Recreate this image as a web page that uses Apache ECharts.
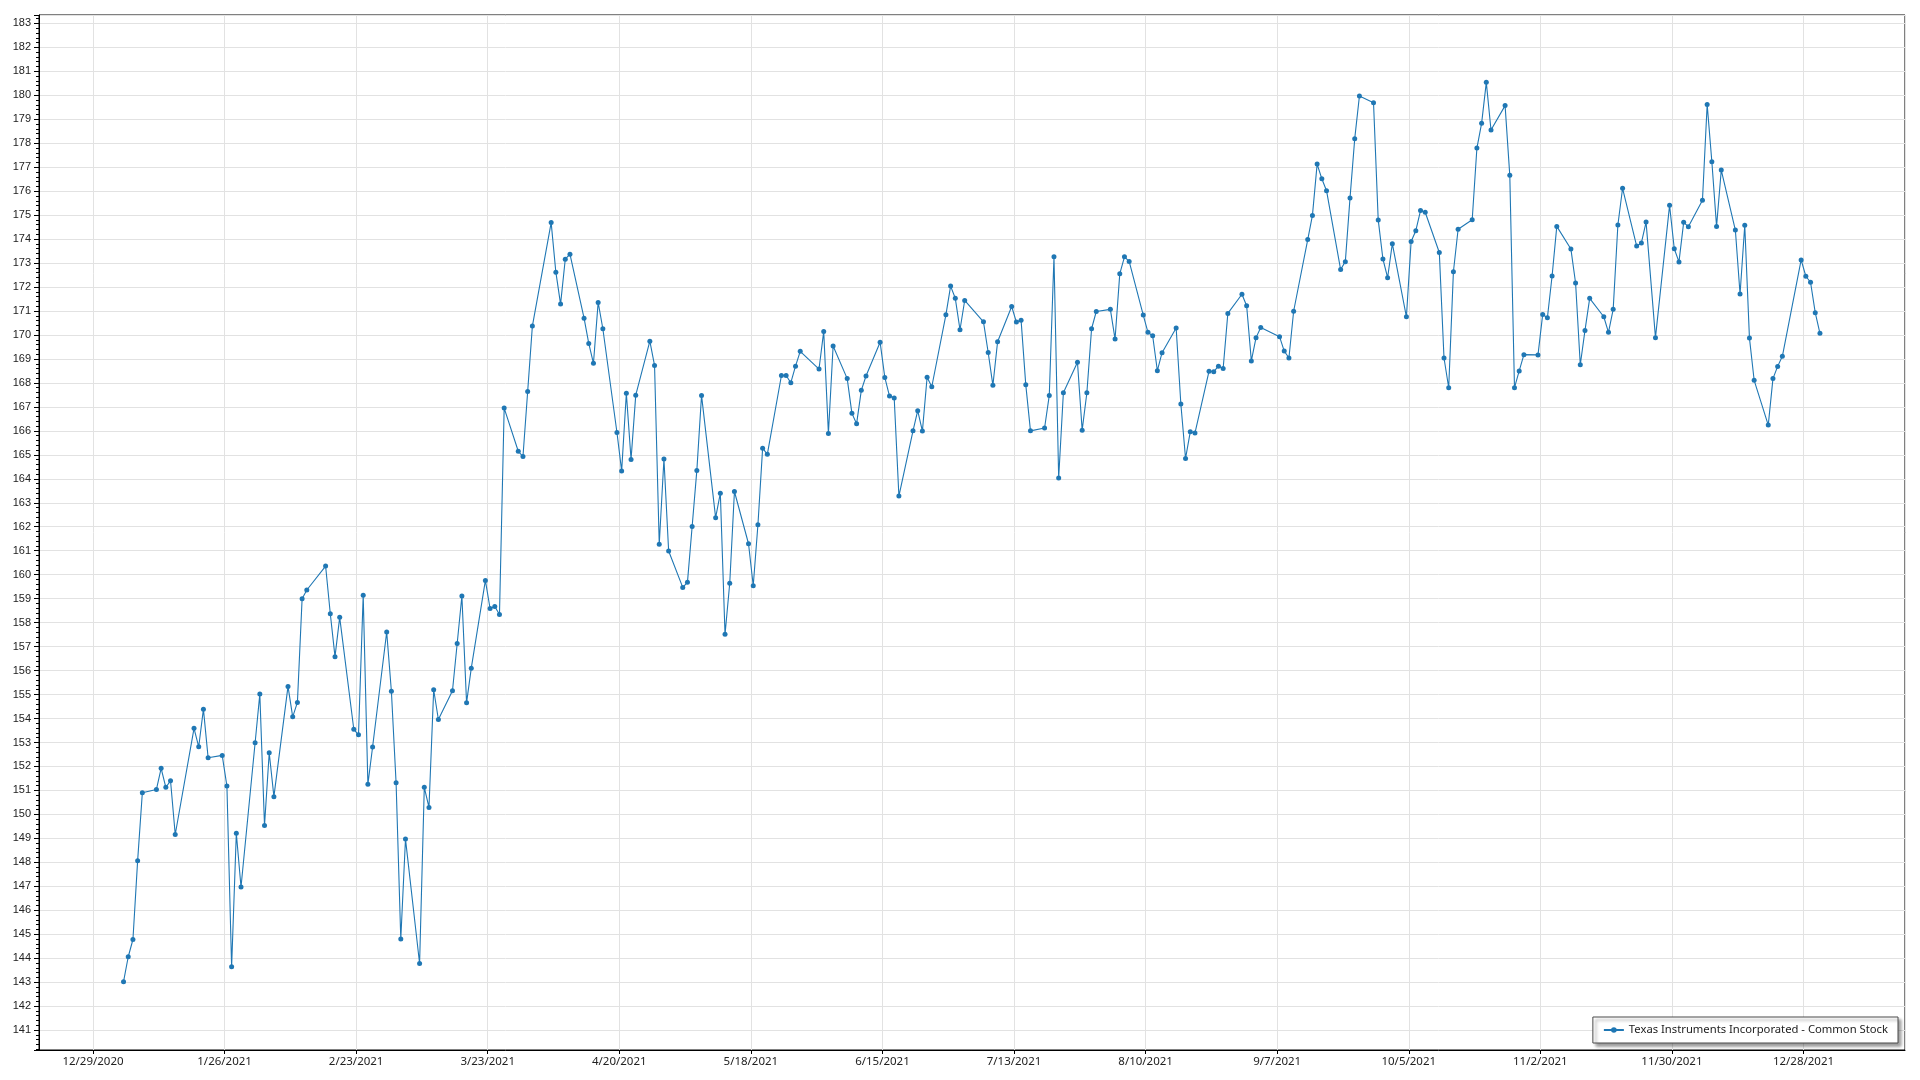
<!DOCTYPE html>
<html>
<head>
<meta charset="utf-8">
<script src="https://cdn.jsdelivr.net/npm/echarts@6/dist/echarts.min.js"></script>
<style>
html,body{margin:0;padding:0;background:#fff;}
#chart{width:1920px;height:1080px;}
</style>
</head>
<body>
<div id="chart"></div>
<script>
const seriesName = 'Texas Instruments Incorporated - Common Stock';
const year = 2021;
const axisOriginDate = '12/29/2020';
const tickStepDays = 28;
const sampleHour = 12;

const tradingDates = [
'1/4','1/5','1/6','1/7','1/8','1/11','1/12','1/13','1/14','1/15','1/19','1/20','1/21','1/22','1/25','1/26','1/27','1/28','1/29',
'2/1','2/2','2/3','2/4','2/5','2/8','2/9','2/10','2/11','2/12','2/16','2/17','2/18','2/19','2/22','2/23','2/24','2/25','2/26',
'3/1','3/2','3/3','3/4','3/5','3/8','3/9','3/10','3/11','3/12','3/15','3/16','3/17','3/18','3/19','3/22','3/23','3/24','3/25','3/26','3/29','3/30','3/31',
'4/1','4/5','4/6','4/7','4/8','4/9','4/12','4/13','4/14','4/15','4/16','4/19','4/20','4/21','4/22','4/23','4/26','4/27','4/28','4/29','4/30',
'5/3','5/4','5/5','5/6','5/7','5/10','5/11','5/12','5/13','5/14','5/17','5/18','5/19','5/20','5/21','5/24','5/25','5/26','5/27','5/28',
'6/1','6/2','6/3','6/4','6/7','6/8','6/9','6/10','6/11','6/14','6/15','6/16','6/17','6/18','6/21','6/22','6/23','6/24','6/25','6/28','6/29','6/30',
'7/1','7/2','7/6','7/7','7/8','7/9','7/12','7/13','7/14','7/15','7/16','7/19','7/20','7/21','7/22','7/23','7/26','7/27','7/28','7/29','7/30',
'8/2','8/3','8/4','8/5','8/6','8/9','8/10','8/11','8/12','8/13','8/16','8/17','8/18','8/19','8/20','8/23','8/24','8/25','8/26','8/27','8/30','8/31',
'9/1','9/2','9/3','9/7','9/8','9/9','9/10','9/13','9/14','9/15','9/16','9/17','9/20','9/21','9/22','9/23','9/24','9/27','9/28','9/29','9/30',
'10/1','10/4','10/5','10/6','10/7','10/8','10/11','10/12','10/13','10/14','10/15','10/18','10/19','10/20','10/21','10/22','10/25','10/26','10/27','10/28','10/29',
'11/1','11/2','11/3','11/4','11/5','11/8','11/9','11/10','11/11','11/12','11/15','11/16','11/17','11/18','11/19','11/22','11/23','11/24','11/26','11/29','11/30',
'12/1','12/2','12/3','12/6','12/7','12/8','12/9','12/10','12/13','12/14','12/15','12/16','12/17','12/20','12/21','12/22','12/23','12/27','12/28','12/29','12/30','12/31'
];

const closePrices = [
143.02,144.06,144.78,148.07,150.90,151.04,151.92,151.13,151.40,149.16,153.59,152.82,154.39,152.36,152.46,151.18,143.64,149.21,146.97,
152.99,155.02,149.54,152.57,150.74,155.34,154.07,154.67,159.00,159.36,160.36,158.37,156.58,158.22,153.55,153.32,159.14,151.26,152.81,
157.61,155.14,151.32,144.80,148.97,143.78,151.13,150.29,155.20,153.96,155.16,157.13,159.11,154.66,156.10,159.76,158.59,158.67,158.34,166.95,165.15,164.93,167.64,
170.37,174.69,172.62,171.29,173.16,173.37,170.70,169.65,168.82,171.36,170.26,165.93,164.33,167.57,164.81,167.49,169.74,168.73,161.27,164.83,160.99,
159.47,159.68,162.01,164.35,167.48,162.38,163.40,157.51,159.64,163.47,161.29,159.54,162.08,165.28,165.02,168.31,168.31,168.01,168.70,169.32,
168.58,170.15,165.89,169.54,168.18,166.73,166.30,167.69,168.29,169.70,168.23,167.45,167.37,163.28,166.00,166.84,165.99,168.24,167.84,170.84,172.04,171.53,
170.22,171.44,170.55,169.27,167.90,169.72,171.19,170.54,170.62,167.92,166.00,166.12,167.48,173.26,164.03,167.59,168.86,166.03,167.59,170.26,170.98,
171.07,169.83,172.55,173.26,173.07,170.83,170.11,169.97,168.51,169.26,170.29,167.12,164.85,165.96,165.91,168.49,168.47,168.70,168.60,170.90,171.70,171.22,
168.92,169.89,170.31,169.93,169.33,169.04,170.99,173.98,174.99,177.13,176.52,176.02,172.73,173.06,175.72,178.19,179.97,179.69,174.80,173.17,172.39,
173.81,170.76,173.90,174.35,175.19,175.12,173.44,169.04,167.80,172.64,174.41,174.81,177.80,178.83,180.54,178.55,179.57,176.66,167.80,168.50,169.18,
169.17,170.86,170.72,172.46,174.53,173.59,172.17,168.76,170.19,171.53,170.76,170.11,171.07,174.59,176.12,173.71,173.84,174.71,169.89,175.41,173.60,
173.05,174.70,174.52,175.62,179.62,177.23,174.53,176.88,174.38,171.71,174.58,169.87,168.11,166.24,168.18,168.69,169.11,173.13,172.45,172.20,170.93,170.07
];

const DAY_MS = 86400000;
function parseMDY(s) { const p = s.split('/').map(Number); return Date.UTC(p[2], p[0] - 1, p[1]); }
const originMs = parseMDY(axisOriginDate);
function dayIndex(md) { const p = md.split('/').map(Number); return (Date.UTC(year, p[0] - 1, p[1]) - originMs) / DAY_MS; }
function fmtDay(v) { const d = new Date(originMs + Math.round(v) * DAY_MS); return (d.getUTCMonth() + 1) + '/' + d.getUTCDate() + '/' + d.getUTCFullYear(); }

const seriesData = tradingDates.map((md, i) => [dayIndex(md) + sampleHour / 24, closePrices[i]]);

const chart = echarts.init(document.getElementById('chart'), null, { renderer: 'canvas' });
const labelColor = '#222';
chart.setOption({
  animation: false,
  backgroundColor: '#fff',
  grid: { left: 39, right: 15, top: 15, bottom: 30, show: true, borderColor: '#000', borderWidth: 1, backgroundColor: 'transparent' },
  xAxis: {
    type: 'value', min: -11.49, max: 385.6, splitNumber: 14, minInterval: tickStepDays, maxInterval: tickStepDays,
    axisLine: { show: true, onZero: false, lineStyle: { color: '#000', width: 1 } },
    axisTick: { show: true, length: 4, lineStyle: { color: '#000' } },
    splitLine: { show: true, lineStyle: { color: '#e2e2e2', width: 1 } },
    axisLabel: { showMinLabel: false, showMaxLabel: false, margin: 6, formatter: fmtDay, fontFamily: 'Noto Sans', fontSize: 11.5, color: labelColor }
  },
  yAxis: {
    type: 'value', min: 140.17, max: 183.35, splitNumber: 43, minInterval: 1, maxInterval: 1,
    axisLine: { show: true, onZero: false, lineStyle: { color: '#000', width: 1 } },
    axisTick: { show: true, length: 5, lineStyle: { color: '#000' } },
    minorTick: { show: true, splitNumber: 5, length: 3, lineStyle: { color: '#000' } },
    splitLine: { show: true, lineStyle: { color: '#e2e2e2', width: 1 } },
    axisLabel: { showMinLabel: false, showMaxLabel: false, margin: 8, formatter: v => String(Math.round(v)), fontFamily: 'Liberation Sans', fontSize: 11, color: labelColor }
  },
  legend: {
    right: 22, bottom: 37, padding: [6, 10, 6, 10],
    backgroundColor: '#fff', borderColor: '#4a4a4a', borderWidth: 1,
    shadowColor: 'rgba(0,0,0,0.4)', shadowBlur: 3, shadowOffsetX: 3, shadowOffsetY: 3,
    itemWidth: 20, itemHeight: 7,
    textStyle: { fontFamily: 'Noto Sans', fontSize: 11.25, color: labelColor, lineHeight: 14 },
    data: [seriesName]
  },
  series: [{
    type: 'line', name: seriesName, data: seriesData,
    symbol: 'circle', symbolSize: 5, showSymbol: true,
    lineStyle: { width: 1.1, color: '#1f77b4' },
    itemStyle: { color: '#1f77b4' },
    emphasis: { disabled: true }
  }]
});
</script>
</body>
</html>
